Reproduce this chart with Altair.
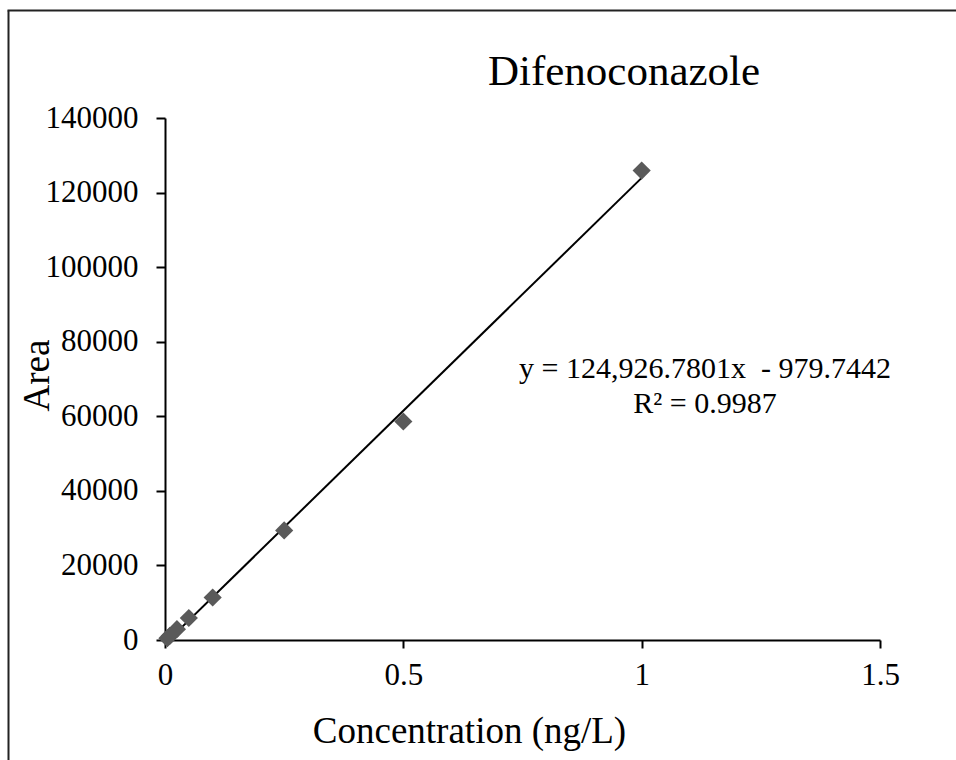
import altair as alt
import pandas as pd

# Calibration standards: concentration (ng/L) and measured peak area
concentration = [0.005, 0.01, 0.025, 0.05, 0.1, 0.25, 0.5, 1.0]
area = [500, 1100, 2900, 5900, 11400, 29400, 58600, 125900]

# Linear fit reported on the chart
slope = 124926.7801
intercept = -979.7442
r_squared = 0.9987
fit_x = [0.0, 1.0]

x_ticks = [0, 0.5, 1, 1.5]
y_ticks = [0, 20000, 40000, 60000, 80000, 100000, 120000, 140000]

FONT = "Liberation Serif"

points = pd.DataFrame({"conc": concentration, "area": area})
fit = pd.DataFrame({"conc": fit_x, "area": [slope * v + intercept for v in fit_x]})

x_scale = alt.Scale(domain=[0, 1.5], nice=False, zero=False)
y_scale = alt.Scale(domain=[0, 140000], nice=False)

x_axis = alt.Axis(
    values=x_ticks, labelExpr="datum.value", grid=False, labelFlush=False,
    title="Concentration (ng/L)", titleFontSize=37, titleFontWeight="normal",
    titleX=304, titleY=102, titleBaseline="alphabetic",
    labelFontSize=31, labelPadding=12, tickSize=8,
)
y_axis = alt.Axis(
    values=y_ticks, format="d", grid=False, labelFlush=False,
    title="Area", titleFontSize=37, titleFontWeight="normal",
    titleX=-128, titleY=257, titleAngle=-90, titleBaseline="middle",
    labelFontSize=31, labelPadding=18, tickSize=9,
)

line = alt.Chart(fit).mark_line(color="black", strokeWidth=2, clip=False).encode(
    x=alt.X("conc:Q", scale=x_scale, axis=x_axis),
    y=alt.Y("area:Q", scale=y_scale, axis=y_axis),
)

dots = alt.Chart(points).mark_point(
    shape="diamond", filled=True, size=330, color="#5a5a5a", opacity=1
).encode(
    x=alt.X("conc:Q", scale=x_scale),
    y=alt.Y("area:Q", scale=y_scale),
)

eq_text = pd.DataFrame({
    "t": [f"y = {slope:,.4f}x\u00a0 - {abs(intercept):.4f}", f"R\u00b2 = {r_squared}"],
    "py": [260, 295],
})
equation = alt.Chart(eq_text).mark_text(
    font=FONT, fontSize=30, align="center", baseline="alphabetic", color="black"
).encode(x=alt.value(540), y=alt.Y("py:Q", scale=None), text="t:N")

title = alt.Chart(pd.DataFrame({"t": ["Difenoconazole"]})).mark_text(
    font=FONT, fontSize=43, align="center", baseline="alphabetic", color="black"
).encode(x=alt.value(459), y=alt.value(-33), text="t:N")

# Outer frame of the figure (left and top edges fall inside the page)
frame_left = alt.Chart(pd.DataFrame({"k": [0]})).mark_rule(color="#222", strokeWidth=2).encode(
    x=alt.value(-156.5), y=alt.value(-107.5), y2=alt.value(700)
)
frame_top = alt.Chart(pd.DataFrame({"k": [0]})).mark_rule(color="#222", strokeWidth=2).encode(
    x=alt.value(-157.5), x2=alt.value(900), y=alt.value(-107.5)
)

chart = alt.layer(frame_left, frame_top, line, dots, equation, title).properties(
    width=715, height=522,
    padding={"left": 165, "top": 118, "right": 76, "bottom": 120},
    autosize=alt.AutoSizeParams(type="none"),
    background="white",
).configure_view(stroke=None).configure_axis(
    labelFont=FONT, titleFont=FONT, labelColor="black", titleColor="black",
    domainColor="black", tickColor="black", domainWidth=2, tickWidth=2,
)

chart.save("out.html", embed_options={"renderer": "svg", "actions": False})
